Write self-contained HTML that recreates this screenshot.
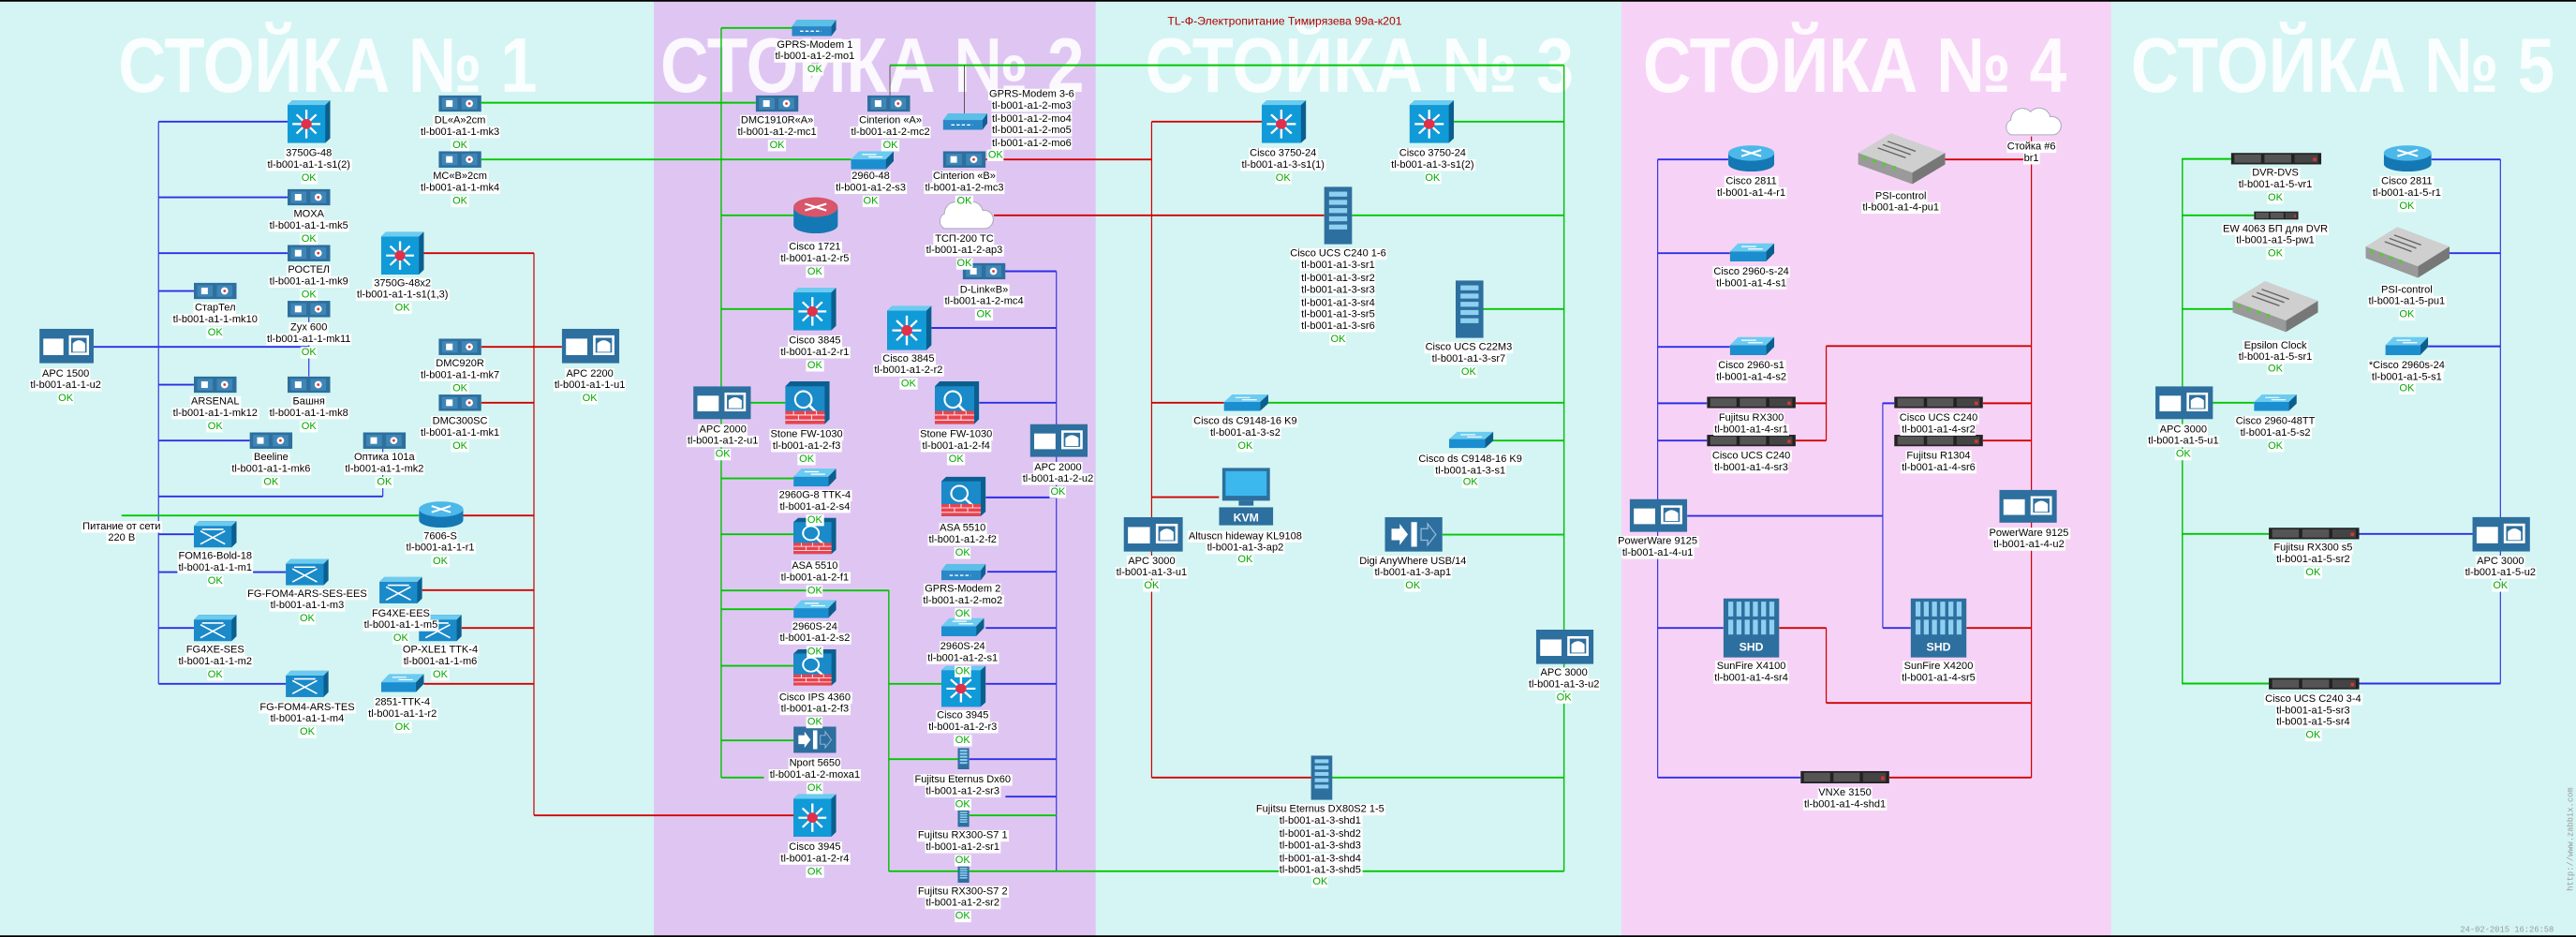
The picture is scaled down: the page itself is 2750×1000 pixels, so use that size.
<!DOCTYPE html>
<html><head><meta charset="utf-8"><style>
html,body{margin:0;padding:0;width:2750px;height:1000px;overflow:hidden;background:#d4f5f3}
#w{position:absolute;left:0;top:0;width:1568px;height:570px;transform:scale(1.75383,1.7544);transform-origin:0 0}
.b{position:absolute;top:0;height:570px}
svg{position:absolute;left:0;top:0}
.l{position:absolute;transform:translateX(-50%);text-align:center;font:6.3px/7.4px "Liberation Sans","DejaVu Sans",sans-serif;white-space:nowrap;color:#000}
.l span{background:#fff;padding:0 .6px}
.l b{font-weight:normal;color:#00a800;background:#fff;padding:0 .6px}
</style></head><body><div id="w">
<div class="b" style="left:0;width:398px;background:#d4f5f3"></div>
<div class="b" style="left:398px;width:269px;background:#dfc6f2"></div>
<div class="b" style="left:667px;width:320px;background:#d4f5f3"></div>
<div class="b" style="left:987px;width:298px;background:#f6d3f6"></div>
<div class="b" style="left:1285px;width:283px;background:#d4f5f3"></div>
<svg width="1568" height="570" viewBox="0 0 1568 570">
<defs>
<symbol id="s3" viewBox="0 0 26 27" preserveAspectRatio="none"><path d="M0 3L3 0H26V24L23 27H0Z" fill="#0b5f8f"/><rect x="0" y="3" width="23" height="24" fill="#119ad8"/><path d="M0 3L3 0H26L23 3Z" fill="#6ccbf0"/><path d="M11.5 6v18M3 15h17M5.5 9l12 12M17.5 9l-12 12" stroke="#fff" stroke-width="1.3"/><circle cx="11.5" cy="15" r="3.2" fill="#e0304a"/></symbol>
<symbol id="mc" viewBox="0 0 26 10" preserveAspectRatio="none"><rect width="26" height="10" fill="#2d6f9e"/><rect x="2" y="1.5" width="9.5" height="7" fill="#3f86b6"/><rect x="14" y="1.5" width="9.5" height="7" fill="#3f86b6"/><rect x="4.5" y="3" width="4" height="4" fill="#fff"/><circle cx="18.7" cy="5" r="2.2" fill="#fff"/><circle cx="18.7" cy="5" r=".8" fill="#d33"/></symbol>
<symbol id="apc" viewBox="0 0 35 21" preserveAspectRatio="none"><rect width="35" height="21" fill="#2d6f9e"/><rect x="2.5" y="6" width="13" height="10" fill="#fff"/><rect x="19" y="4" width="13" height="12" fill="#fff"/><rect x="20.5" y="5.5" width="10" height="9" fill="#2d6f9e"/><path d="M21.5 14v-5q4-4 8 0v5z" fill="#fff"/></symbol>
<symbol id="rt" viewBox="0 0 28 17" preserveAspectRatio="none"><path d="M0 5v7a14 5 0 0 0 28 0v-7z" fill="#1478b4"/><ellipse cx="14" cy="5" rx="14" ry="5" fill="#4cb8ea"/><path d="M8 3l12 4M20 3l-12 4" stroke="#fff" stroke-width="1.2"/></symbol>
<symbol id="rr" viewBox="0 0 27 22" preserveAspectRatio="none"><path d="M0 6v11a13.5 5 0 0 0 27 0v-11z" fill="#1478b4"/><ellipse cx="13.5" cy="6" rx="13.5" ry="6" fill="#d8556a"/><path d="M7 4l13 4M20 4l-13 4" stroke="#fff" stroke-width="1.2"/></symbol>
<symbol id="fl" viewBox="0 0 27 11" preserveAspectRatio="none"><path d="M0 5L5 0H27L22 5Z" fill="#6ccbf0"/><path d="M0 5H22V11H0Z" fill="#1b8ed0"/><path d="M22 5L27 0V6L22 11Z" fill="#0b5f8f"/><path d="M7 2h9M11 3.5h9" stroke="#fff" stroke-width=".7"/></symbol>
<symbol id="fw" viewBox="0 0 27 26" preserveAspectRatio="none"><path d="M0 3L3 0H27V23L24 26H0Z" fill="#0b5f8f"/><rect y="3" width="24" height="23" fill="#1a8ac9"/><circle cx="11" cy="11" r="5" fill="none" stroke="#fff" stroke-width="1.2"/><path d="M14 14l5 5" stroke="#fff" stroke-width="1.5"/><rect y="18" width="24" height="8" fill="#e8434f"/><path d="M0 20.5h24M0 23.5h24M5 18v2.5M12 18v2.5M19 18v2.5M8 20.5v3M16 20.5v3" stroke="#fff" stroke-width=".5"/></symbol>
<symbol id="md" viewBox="0 0 27 10" preserveAspectRatio="none"><path d="M0 4L3 0H27L24 4Z" fill="#5cbfe8"/><rect y="4" width="24" height="6" fill="#2a88c8"/><path d="M24 4L27 0V6L24 10Z" fill="#115f95"/><path d="M5 7h13" stroke="#fff" stroke-dasharray="2 1.2" stroke-width=".8"/></symbol>
<symbol id="cl" viewBox="0 0 36 18" preserveAspectRatio="none"><path d="M5 17a5 5 0 0 1 0-9a7 7 0 0 1 12-5a7 7 0 0 1 12 3a5.5 5.5 0 0 1 2 11z" fill="#fff" stroke="#aab" stroke-width=".6"/></symbol>
<symbol id="tw" viewBox="0 0 17 35" preserveAspectRatio="none"><rect width="17" height="35" fill="#2d6f9e"/><g fill="#8fd0f2"><rect x="3" y="3" width="11" height="3"/><rect x="3" y="8" width="11" height="3"/><rect x="3" y="13" width="11" height="3"/><rect x="3" y="18" width="11" height="3"/><rect x="3" y="23" width="11" height="3"/></g></symbol>
<symbol id="u1" viewBox="0 0 54 7" preserveAspectRatio="none"><rect width="54" height="7" fill="#222"/><rect x="2" y="1" width="16" height="5" fill="#555"/><rect x="20" y="1" width="16" height="5" fill="#555"/><rect x="38" y="1" width="14" height="5" fill="#444"/><rect x="49" y="3" width="2" height="2" fill="#d33"/></symbol>
<symbol id="ps" viewBox="0 0 53 31" preserveAspectRatio="none"><path d="M0 12L20 0L53 12L33 24Z" fill="#cfcfcf"/><path d="M0 12L33 24V31L0 19Z" fill="#9a9a9a"/><path d="M33 24L53 12V19L33 31Z" fill="#777"/><path d="M18 5l17 6M15 7l17 6M12 9l17 6" stroke="#666" stroke-width=".8"/><g fill="#5c3"><rect x="3" y="14" width="2" height="2"/><rect x="9" y="16" width="2" height="2"/><rect x="15" y="18" width="2" height="2"/><rect x="21" y="20" width="2" height="2"/></g></symbol>
<symbol id="sh" viewBox="0 0 34 36" preserveAspectRatio="none"><rect width="34" height="36" fill="#2d6f9e"/><g fill="#8fd0f2"><rect x="3" y="2" width="3" height="9"/><rect x="8" y="2" width="3" height="9"/><rect x="13" y="2" width="3" height="9"/><rect x="18" y="2" width="3" height="9"/><rect x="23" y="2" width="3" height="9"/><rect x="28" y="2" width="3" height="9"/><rect x="3" y="13" width="3" height="9"/><rect x="8" y="13" width="3" height="9"/><rect x="13" y="13" width="3" height="9"/><rect x="18" y="13" width="3" height="9"/><rect x="23" y="13" width="3" height="9"/><rect x="28" y="13" width="3" height="9"/></g><text x="17" y="32" font-family="Liberation Sans,sans-serif" font-weight="bold" font-size="7" fill="#fff" text-anchor="middle">SHD</text></symbol>
<symbol id="kv" viewBox="0 0 33 35" preserveAspectRatio="none"><rect x="2" width="29" height="20" fill="#2d6f9e"/><rect x="4" y="2" width="25" height="15" fill="#3cb8ee"/><rect x="12" y="20" width="9" height="3" fill="#2d6f9e"/><rect y="24" width="33" height="11" fill="#2d6f9e"/><text x="16.5" y="32.5" font-family="Liberation Sans,sans-serif" font-weight="bold" font-size="7" fill="#fff" text-anchor="middle">KVM</text></symbol>
<symbol id="dg" viewBox="0 0 35 21" preserveAspectRatio="none"><rect width="35" height="21" fill="#2d6f9e"/><path d="M4 7h5v-3l5 6.5l-5 6.5v-3h-5z" fill="#fff"/><rect x="16" y="3" width="3.5" height="15" fill="#fff"/><path d="M22 7h4v-3l5 6.5l-5 6.5v-3h-4z" fill="none" stroke="#9bd" stroke-width=".7"/></symbol>
<symbol id="fg" viewBox="0 0 26 16" preserveAspectRatio="none"><path d="M0 3L3 0H26V13L23 16H0Z" fill="#0b5f8f"/><rect y="3" width="23" height="13" fill="#1a8ac9"/><path d="M0 3L3 0H26L23 3Z" fill="#6ccbf0"/><path d="M4 6l15 8M19 6l-15 8M5 5h13" stroke="#fff" stroke-width=".9"/></symbol>
</defs>
<g fill="#fff" fill-opacity=".88" font-family="Liberation Sans,sans-serif" font-weight="bold" font-size="47">
<text x="72" y="56" textLength="255" lengthAdjust="spacingAndGlyphs">СТОЙКА № 1</text>
<text x="402" y="56" textLength="258" lengthAdjust="spacingAndGlyphs">СТОЙКА № 2</text>
<text x="697" y="56" textLength="261" lengthAdjust="spacingAndGlyphs">СТОЙКА № 3</text>
<text x="1000" y="56" textLength="258" lengthAdjust="spacingAndGlyphs">СТОЙКА № 4</text>
<text x="1297" y="56" textLength="258" lengthAdjust="spacingAndGlyphs">СТОЙКА № 5</text>
</g>
<text x="782" y="15" font-family="Liberation Sans,sans-serif" font-size="7" fill="#b00000" text-anchor="middle">TL-Ф-Электропитание Тимирязева 99а-к201</text>
<g fill="none">
<path stroke="#2d2de8" stroke-width="1.1" d="M56 211H188M96.5 74H175M96.5 120H175M96.5 154H175M96.5 177H118M96.5 234H118M96.5 268H152M96.5 302H233M96.5 325H118M96.5 348H174M96.5 382H118M96.5 416H174M611 165H643M567 199.5H643M596 245H643M600 302.6H643M601 347.8H643M600 382H643M600 416H643M590 461.8H643M612 484.6H643M1009 97H1052M1009 154H1053M1009 211H1053M1009 245.3H1039M1009 268H1039M1027 313.8H1146M1009 382H1049M1009 473H1096M1146 245.3H1153M1146 382H1163M1480 97H1522M1490 154H1522M1478 210.7H1522M1435 324.8H1505M1435 415.8H1522"/>
<path stroke="#3a3ae0" stroke-width=".7" d="M96.5 74V416M188 193V229M233 273V302M643 165V530M1009 97V473M1146 245V382M1522 97V415.8"/>
<path stroke="#00c800" stroke-width="1.1" d="M74 313.6H255M293 62.5H460M293 97H518M439 17H483M439 131H483M439 188H483M457 245H478M439 291H483M439 325H483M439 370.6H483M439 405H483M439 450.4H483M439 473H465M439 359.2H541M541 416H573M541 461.8H583M541 530H952M590 496H643M541.7 39.7H952M885 74H952M823 131H952M902 188H952M772 245H952M908 268H952M878 325.2H952M810 473H952M1328 96.7H1358M1328 131H1372M1328 188H1359M1346 245H1372M1328 324.8H1381M1328 415.8H1381"/>
<path stroke="#00c000" stroke-width=".8" d="M439 17V473M541 359V530M952 39.7V530M1328.4 96.7V415.8"/>
<path stroke="#444" stroke-width=".5" d="M541.7 39.7V58M587 39.7V69"/>
<path stroke="#d20000" stroke-width="1.1" d="M258 154H325M293 211H342M293 245H325M281 313.6H325M257 359H325M281 382H325M258 416H325M325 496H490M600 97H701M605 131H806M701 74H768M701 245H745M701 302.4H742M701 473H798M1184 97H1236.5M1111.6 210.5H1236.5M1093 245.3H1111.6M1093 268H1111.6M1207 245.3H1236.5M1207 268H1236.5M1083 382H1111.6M1111.6 427.6H1236.5M1197 382H1236.5M1150 473H1236.5"/>
<path stroke="#d20000" stroke-width=".7" d="M325 154V496M701 74V473M1236.5 83V473M1111.6 210.5V268M1111.6 382V427.6"/>
</g>
<!-- icons rack1 -->
<use href="#apc" x="24" y="200" width="33" height="21"/>
<use href="#s3" x="175" y="61" width="26" height="26"/>
<use href="#mc" x="175" y="115" width="26" height="10"/>
<use href="#mc" x="175" y="149" width="26" height="10"/>
<use href="#mc" x="118" y="172" width="26" height="10"/>
<use href="#mc" x="175" y="183" width="26" height="10"/>
<use href="#mc" x="118" y="229" width="26" height="10"/>
<use href="#mc" x="175" y="229" width="26" height="10"/>
<use href="#mc" x="152" y="263" width="26" height="10"/>
<use href="#mc" x="221" y="263" width="26" height="10"/>
<use href="#mc" x="267" y="58" width="26" height="10"/>
<use href="#mc" x="267" y="92" width="26" height="10"/>
<use href="#s3" x="232" y="141" width="26" height="26"/>
<use href="#mc" x="267" y="206" width="26" height="10"/>
<use href="#apc" x="342" y="200" width="35" height="21"/>
<use href="#mc" x="267" y="240" width="26" height="10"/>
<use href="#rt" x="255" y="305" width="27" height="16"/>
<use href="#fg" x="118" y="317" width="26" height="16"/>
<use href="#fg" x="174" y="340" width="26" height="16"/>
<use href="#fg" x="231" y="351" width="26" height="16"/>
<use href="#fg" x="255" y="374" width="26" height="16"/>
<use href="#fg" x="118" y="374" width="26" height="16"/>
<use href="#fg" x="174" y="408" width="26" height="16"/>
<use href="#fl" x="232" y="410" width="26" height="11"/>
<!-- rack2 -->
<use href="#md" x="482" y="12" width="27" height="10"/>
<use href="#mc" x="460" y="58" width="26" height="10"/>
<use href="#mc" x="528" y="58" width="26" height="10"/>
<use href="#md" x="574" y="69" width="27" height="10"/>
<use href="#fl" x="518" y="92" width="26" height="11"/>
<use href="#mc" x="574" y="92" width="26" height="10"/>
<use href="#rr" x="483" y="120" width="27" height="22"/>
<use href="#cl" x="570" y="122" width="35" height="18"/>
<use href="#mc" x="586" y="160" width="26" height="10"/>
<use href="#s3" x="483" y="175" width="26" height="26"/>
<use href="#s3" x="540" y="186" width="27" height="27"/>
<use href="#apc" x="422" y="235" width="35" height="20"/>
<use href="#fw" x="478" y="232" width="27" height="26"/>
<use href="#fw" x="569" y="232" width="27" height="26"/>
<use href="#apc" x="627" y="258" width="35" height="20"/>
<use href="#fl" x="483" y="285" width="26" height="11"/>
<use href="#fw" x="483" y="315" width="26" height="22"/>
<use href="#fw" x="573" y="290" width="27" height="24"/>
<use href="#md" x="573" y="343" width="27" height="10"/>
<use href="#fl" x="483" y="365" width="26" height="11"/>
<use href="#fl" x="573" y="376" width="26" height="11"/>
<use href="#fw" x="483" y="395" width="26" height="22"/>
<use href="#s3" x="573" y="405" width="27" height="25"/>
<use href="#dg" x="483" y="442" width="26" height="16"/>
<use href="#tw" x="583" y="455" width="7" height="13"/>
<use href="#s3" x="483" y="483" width="26" height="26"/>
<use href="#tw" x="583" y="493" width="7" height="10"/>
<use href="#tw" x="583" y="527" width="7" height="10"/>
<!-- rack3 -->
<use href="#s3" x="768" y="61" width="27" height="26"/>
<use href="#s3" x="858" y="61" width="27" height="26"/>
<use href="#tw" x="806" y="113.6" width="17" height="35"/>
<use href="#tw" x="886" y="170.6" width="17" height="35"/>
<use href="#fl" x="745" y="240" width="27" height="10"/>
<use href="#fl" x="882" y="262.6" width="27" height="10"/>
<use href="#kv" x="742" y="284.6" width="33" height="35"/>
<use href="#apc" x="684" y="314.6" width="36" height="21"/>
<use href="#dg" x="843" y="314.6" width="35" height="21"/>
<use href="#apc" x="935" y="383" width="35" height="21"/>
<use href="#tw" x="798" y="459.6" width="13" height="27"/>
<!-- rack4 -->
<use href="#rt" x="1052" y="88.4" width="28" height="16"/>
<use href="#ps" x="1131" y="81" width="53" height="31"/>
<use href="#cl" x="1219" y="65" width="36" height="18"/>
<use href="#fl" x="1053" y="148" width="27" height="11"/>
<use href="#fl" x="1053" y="205" width="27" height="11"/>
<use href="#u1" x="1039" y="241.3" width="54" height="7"/>
<use href="#u1" x="1039" y="264.5" width="54" height="7"/>
<use href="#u1" x="1153" y="241.3" width="54" height="7"/>
<use href="#u1" x="1153" y="264.5" width="54" height="7"/>
<use href="#apc" x="992" y="303.6" width="35" height="20"/>
<use href="#apc" x="1217" y="298" width="35" height="20"/>
<use href="#sh" x="1049" y="364" width="34" height="36"/>
<use href="#sh" x="1163" y="364" width="34" height="36"/>
<use href="#u1" x="1096" y="469" width="54" height="7.6"/>
<!-- rack5 -->
<use href="#u1" x="1358" y="93" width="55" height="7"/>
<use href="#rt" x="1451" y="88.4" width="29" height="16"/>
<use href="#u1" x="1372" y="128.6" width="27" height="5"/>
<use href="#ps" x="1440" y="138" width="51" height="31"/>
<use href="#ps" x="1359" y="171" width="52" height="31"/>
<use href="#fl" x="1452" y="205" width="26" height="11"/>
<use href="#apc" x="1312" y="235" width="35" height="20"/>
<use href="#fl" x="1372" y="240" width="26" height="10"/>
<use href="#u1" x="1381" y="321" width="55" height="7"/>
<use href="#apc" x="1505" y="314.5" width="35" height="21"/>
<use href="#u1" x="1381" y="412.4" width="55" height="7"/>
<text x="1526" y="567" font-family="Liberation Mono,monospace" font-size="5" fill="#999" text-anchor="middle">24-02-2015 16:26:58</text>
<text transform="translate(1566 542) rotate(-90)" font-family="Liberation Mono,monospace" font-size="5" fill="#999">http://www.zabbix.com</text>
<rect x="0" y="0" width="1568" height="1" fill="#000"/>
<rect x="0" y="569" width="1568" height="1" fill="#000"/>
</svg>
<!-- labels rack1 -->
<div class="l" style="left:40px;top:224px"><span>APC 1500</span><br><span>tl-b001-a1-1-u2</span><br><b>OK</b></div>
<div class="l" style="left:188px;top:90px"><span>3750G-48</span><br><span>tl-b001-a1-1-s1(2)</span><br><b>OK</b></div>
<div class="l" style="left:188px;top:127px"><span>MOXA</span><br><span>tl-b001-a1-1-mk5</span><br><b>OK</b></div>
<div class="l" style="left:188px;top:161px"><span>РОСТЕЛ</span><br><span>tl-b001-a1-1-mk9</span><br><b>OK</b></div>
<div class="l" style="left:131px;top:184px"><span>СтарТел</span><br><span>tl-b001-a1-1-mk10</span><br><b>OK</b></div>
<div class="l" style="left:188px;top:196px"><span>Zyx 600</span><br><span>tl-b001-a1-1-mk11</span><br><b>OK</b></div>
<div class="l" style="left:131px;top:241px"><span>ARSENAL</span><br><span>tl-b001-a1-1-mk12</span><br><b>OK</b></div>
<div class="l" style="left:188px;top:241px"><span>Башня</span><br><span>tl-b001-a1-1-mk8</span><br><b>OK</b></div>
<div class="l" style="left:165px;top:275px"><span>Beeline</span><br><span>tl-b001-a1-1-mk6</span><br><b>OK</b></div>
<div class="l" style="left:234px;top:275px"><span>Оптика 101a</span><br><span>tl-b001-a1-1-mk2</span><br><b>OK</b></div>
<div class="l" style="left:280px;top:70px"><span>DL«A»2cm</span><br><span>tl-b001-a1-1-mk3</span><br><b>OK</b></div>
<div class="l" style="left:280px;top:104px"><span>MC«B»2cm</span><br><span>tl-b001-a1-1-mk4</span><br><b>OK</b></div>
<div class="l" style="left:245px;top:169px"><span>3750G-48x2</span><br><span>tl-b001-a1-1-s1(1,3)</span><br><b>OK</b></div>
<div class="l" style="left:280px;top:218px"><span>DMC920R</span><br><span>tl-b001-a1-1-mk7</span><br><b>OK</b></div>
<div class="l" style="left:359px;top:224px"><span>APC 2200</span><br><span>tl-b001-a1-1-u1</span><br><b>OK</b></div>
<div class="l" style="left:280px;top:253px"><span>DMC300SC</span><br><span>tl-b001-a1-1-mk1</span><br><b>OK</b></div>
<div class="l" style="left:74px;top:317px"><span>Питание от сети</span><br><span>220 В</span></div>
<div class="l" style="left:268px;top:323px"><span>7606-S</span><br><span>tl-b001-a1-1-r1</span><br><b>OK</b></div>
<div class="l" style="left:131px;top:335px"><span>FOM16-Bold-18</span><br><span>tl-b001-a1-1-m1</span><br><b>OK</b></div>
<div class="l" style="left:187px;top:358px"><span>FG-FOM4-ARS-SES-EES</span><br><span>tl-b001-a1-1-m3</span><br><b>OK</b></div>
<div class="l" style="left:244px;top:370px"><span>FG4XE-EES</span><br><span>tl-b001-a1-1-m5</span><br><b>OK</b></div>
<div class="l" style="left:268px;top:392px"><span>OP-XLE1 TTK-4</span><br><span>tl-b001-a1-1-m6</span><br><b>OK</b></div>
<div class="l" style="left:131px;top:392px"><span>FG4XE-SES</span><br><span>tl-b001-a1-1-m2</span><br><b>OK</b></div>
<div class="l" style="left:187px;top:427px"><span>FG-FOM4-ARS-TES</span><br><span>tl-b001-a1-1-m4</span><br><b>OK</b></div>
<div class="l" style="left:245px;top:424px"><span>2851-TTK-4</span><br><span>tl-b001-a1-1-r2</span><br><b>OK</b></div>
<!-- rack2 -->
<div class="l" style="left:496px;top:24px"><span>GPRS-Modem 1</span><br><span>tl-b001-a1-2-mo1</span><br><b>OK</b></div>
<div class="l" style="left:473px;top:70px"><span>DMC1910R«A»</span><br><span>tl-b001-a1-2-mc1</span><br><b>OK</b></div>
<div class="l" style="left:542px;top:70px"><span>Cinterion «A»</span><br><span>tl-b001-a1-2-mc2</span><br><b>OK</b></div>
<div class="l" style="left:628px;top:54px"><span>GPRS-Modem 3-6</span><br><span>tl-b001-a1-2-mo3</span><br><span>tl-b001-a1-2-mo4</span><br><span>tl-b001-a1-2-mo5</span><br><span>tl-b001-a1-2-mo6</span></div>
<div class="l" style="left:606px;top:91px"><b>OK</b></div>
<div class="l" style="left:530px;top:104px"><span>2960-48</span><br><span>tl-b001-a1-2-s3</span><br><b>OK</b></div>
<div class="l" style="left:587px;top:104px"><span>Cinterion «B»</span><br><span>tl-b001-a1-2-mc3</span><br><b>OK</b></div>
<div class="l" style="left:496px;top:147px"><span>Cisco 1721</span><br><span>tl-b001-a1-2-r5</span><br><b>OK</b></div>
<div class="l" style="left:587px;top:142px"><span>ТСП-200 ТС</span><br><span>tl-b001-a1-2-ap3</span><br><b>OK</b></div>
<div class="l" style="left:599px;top:173px"><span>D-Link«B»</span><br><span>tl-b001-a1-2-mc4</span><br><b>OK</b></div>
<div class="l" style="left:496px;top:204px"><span>Cisco 3845</span><br><span>tl-b001-a1-2-r1</span><br><b>OK</b></div>
<div class="l" style="left:553px;top:215px"><span>Cisco 3845</span><br><span>tl-b001-a1-2-r2</span><br><b>OK</b></div>
<div class="l" style="left:440px;top:258px"><span>APC 2000</span><br><span>tl-b001-a1-2-u1</span><br><b>OK</b></div>
<div class="l" style="left:491px;top:261px"><span>Stone FW-1030</span><br><span>tl-b001-a1-2-f3</span><br><b>OK</b></div>
<div class="l" style="left:582px;top:261px"><span>Stone FW-1030</span><br><span>tl-b001-a1-2-f4</span><br><b>OK</b></div>
<div class="l" style="left:644px;top:281px"><span>APC 2000</span><br><span>tl-b001-a1-2-u2</span><br><b>OK</b></div>
<div class="l" style="left:496px;top:298px"><span>2960G-8 TTK-4</span><br><span>tl-b001-a1-2-s4</span><br><b>OK</b></div>
<div class="l" style="left:496px;top:341px"><span>ASA 5510</span><br><span>tl-b001-a1-2-f1</span><br><b>OK</b></div>
<div class="l" style="left:586px;top:318px"><span>ASA 5510</span><br><span>tl-b001-a1-2-f2</span><br><b>OK</b></div>
<div class="l" style="left:586px;top:355px"><span>GPRS-Modem 2</span><br><span>tl-b001-a1-2-mo2</span><br><b>OK</b></div>
<div class="l" style="left:496px;top:378px"><span>2960S-24</span><br><span>tl-b001-a1-2-s2</span><br><b>OK</b></div>
<div class="l" style="left:586px;top:390px"><span>2960S-24</span><br><span>tl-b001-a1-2-s1</span><br><b>OK</b></div>
<div class="l" style="left:496px;top:421px"><span>Cisco IPS 4360</span><br><span>tl-b001-a1-2-f3</span><br><b>OK</b></div>
<div class="l" style="left:586px;top:432px"><span>Cisco 3945</span><br><span>tl-b001-a1-2-r3</span><br><b>OK</b></div>
<div class="l" style="left:496px;top:461px"><span>Nport 5650</span><br><span>tl-b001-a1-2-moxa1</span><br><b>OK</b></div>
<div class="l" style="left:586px;top:471px"><span>Fujitsu Eternus Dx60</span><br><span>tl-b001-a1-2-sr3</span><br><b>OK</b></div>
<div class="l" style="left:496px;top:512px"><span>Cisco 3945</span><br><span>tl-b001-a1-2-r4</span><br><b>OK</b></div>
<div class="l" style="left:586px;top:505px"><span>Fujitsu RX300-S7 1</span><br><span>tl-b001-a1-2-sr1</span><br><b>OK</b></div>
<div class="l" style="left:586px;top:539px"><span>Fujitsu RX300-S7 2</span><br><span>tl-b001-a1-2-sr2</span><br><b>OK</b></div>
<!-- rack3 -->
<div class="l" style="left:781px;top:90px"><span>Cisco 3750-24</span><br><span>tl-b001-a1-3-s1(1)</span><br><b>OK</b></div>
<div class="l" style="left:872px;top:90px"><span>Cisco 3750-24</span><br><span>tl-b001-a1-3-s1(2)</span><br><b>OK</b></div>
<div class="l" style="left:814.5px;top:151px"><span>Cisco UCS C240 1-6</span><br><span>tl-b001-a1-3-sr1</span><br><span>tl-b001-a1-3-sr2</span><br><span>tl-b001-a1-3-sr3</span><br><span>tl-b001-a1-3-sr4</span><br><span>tl-b001-a1-3-sr5</span><br><span>tl-b001-a1-3-sr6</span><br><b>OK</b></div>
<div class="l" style="left:894px;top:208px"><span>Cisco UCS C22M3</span><br><span>tl-b001-a1-3-sr7</span><br><b>OK</b></div>
<div class="l" style="left:758px;top:253px"><span>Cisco ds C9148-16 K9</span><br><span>tl-b001-a1-3-s2</span><br><b>OK</b></div>
<div class="l" style="left:895px;top:275.5px"><span>Cisco ds C9148-16 K9</span><br><span>tl-b001-a1-3-s1</span><br><b>OK</b></div>
<div class="l" style="left:758px;top:322.5px"><span>Altuscn hideway KL9108</span><br><span>tl-b001-a1-3-ap2</span><br><b>OK</b></div>
<div class="l" style="left:701px;top:338px"><span>APC 3000</span><br><span>tl-b001-a1-3-u1</span><br><b>OK</b></div>
<div class="l" style="left:860px;top:338px"><span>Digi AnyWhere USB/14</span><br><span>tl-b001-a1-3-ap1</span><br><b>OK</b></div>
<div class="l" style="left:952px;top:406px"><span>APC 3000</span><br><span>tl-b001-a1-3-u2</span><br><b>OK</b></div>
<div class="l" style="left:803.6px;top:489px"><span>Fujitsu Eternus DX80S2 1-5</span><br><span>tl-b001-a1-3-shd1</span><br><span>tl-b001-a1-3-shd2</span><br><span>tl-b001-a1-3-shd3</span><br><span>tl-b001-a1-3-shd4</span><br><span>tl-b001-a1-3-shd5</span><br><b>OK</b></div>
<!-- rack4 -->
<div class="l" style="left:1066px;top:107px"><span>Cisco 2811</span><br><span>tl-b001-a1-4-r1</span></div>
<div class="l" style="left:1157px;top:116px"><span>PSI-control</span><br><span>tl-b001-a1-4-pu1</span></div>
<div class="l" style="left:1236.5px;top:86px"><span>Стойка #6</span><br><span>br1</span></div>
<div class="l" style="left:1066px;top:161.5px"><span>Cisco 2960-s-24</span><br><span>tl-b001-a1-4-s1</span></div>
<div class="l" style="left:1066px;top:218.5px"><span>Cisco 2960-s1</span><br><span>tl-b001-a1-4-s2</span></div>
<div class="l" style="left:1066px;top:250.5px"><span>Fujitsu RX300</span><br><span>tl-b001-a1-4-sr1</span></div>
<div class="l" style="left:1066px;top:273.5px"><span>Cisco UCS C240</span><br><span>tl-b001-a1-4-sr3</span></div>
<div class="l" style="left:1180px;top:250.5px"><span>Cisco UCS C240</span><br><span>tl-b001-a1-4-sr2</span></div>
<div class="l" style="left:1180px;top:273.5px"><span>Fujitsu R1304</span><br><span>tl-b001-a1-4-sr6</span></div>
<div class="l" style="left:1009px;top:326px"><span>PowerWare 9125</span><br><span>tl-b001-a1-4-u1</span></div>
<div class="l" style="left:1235px;top:321px"><span>PowerWare 9125</span><br><span>tl-b001-a1-4-u2</span></div>
<div class="l" style="left:1066px;top:402px"><span>SunFire X4100</span><br><span>tl-b001-a1-4-sr4</span></div>
<div class="l" style="left:1180px;top:402px"><span>SunFire X4200</span><br><span>tl-b001-a1-4-sr5</span></div>
<div class="l" style="left:1123px;top:479px"><span>VNXe 3150</span><br><span>tl-b001-a1-4-shd1</span></div>
<!-- rack5 -->
<div class="l" style="left:1385px;top:102px"><span>DVR-DVS</span><br><span>tl-b001-a1-5-vr1</span><br><b>OK</b></div>
<div class="l" style="left:1465px;top:107px"><span>Cisco 2811</span><br><span>tl-b001-a1-5-r1</span><br><b>OK</b></div>
<div class="l" style="left:1385px;top:136px"><span>EW 4063 БП для DVR</span><br><span>tl-b001-a1-5-pw1</span><br><b>OK</b></div>
<div class="l" style="left:1465px;top:173px"><span>PSI-control</span><br><span>tl-b001-a1-5-pu1</span><br><b>OK</b></div>
<div class="l" style="left:1385px;top:206.5px"><span>Epsilon Clock</span><br><span>tl-b001-a1-5-sr1</span><br><b>OK</b></div>
<div class="l" style="left:1465px;top:218.5px"><span>*Cisco 2960s-24</span><br><span>tl-b001-a1-5-s1</span><br><b>OK</b></div>
<div class="l" style="left:1329px;top:258px"><span>APC 3000</span><br><span>tl-b001-a1-5-u1</span><br><b>OK</b></div>
<div class="l" style="left:1385px;top:253px"><span>Cisco 2960-48TT</span><br><span>tl-b001-a1-5-s2</span><br><b>OK</b></div>
<div class="l" style="left:1408px;top:330px"><span>Fujitsu RX300 s5</span><br><span>tl-b001-a1-5-sr2</span><br><b>OK</b></div>
<div class="l" style="left:1522px;top:338px"><span>APC 3000</span><br><span>tl-b001-a1-5-u2</span><br><b>OK</b></div>
<div class="l" style="left:1408px;top:421.5px"><span>Cisco UCS C240 3-4</span><br><span>tl-b001-a1-5-sr3</span><br><span>tl-b001-a1-5-sr4</span><br><b>OK</b></div>
</div></body></html>
